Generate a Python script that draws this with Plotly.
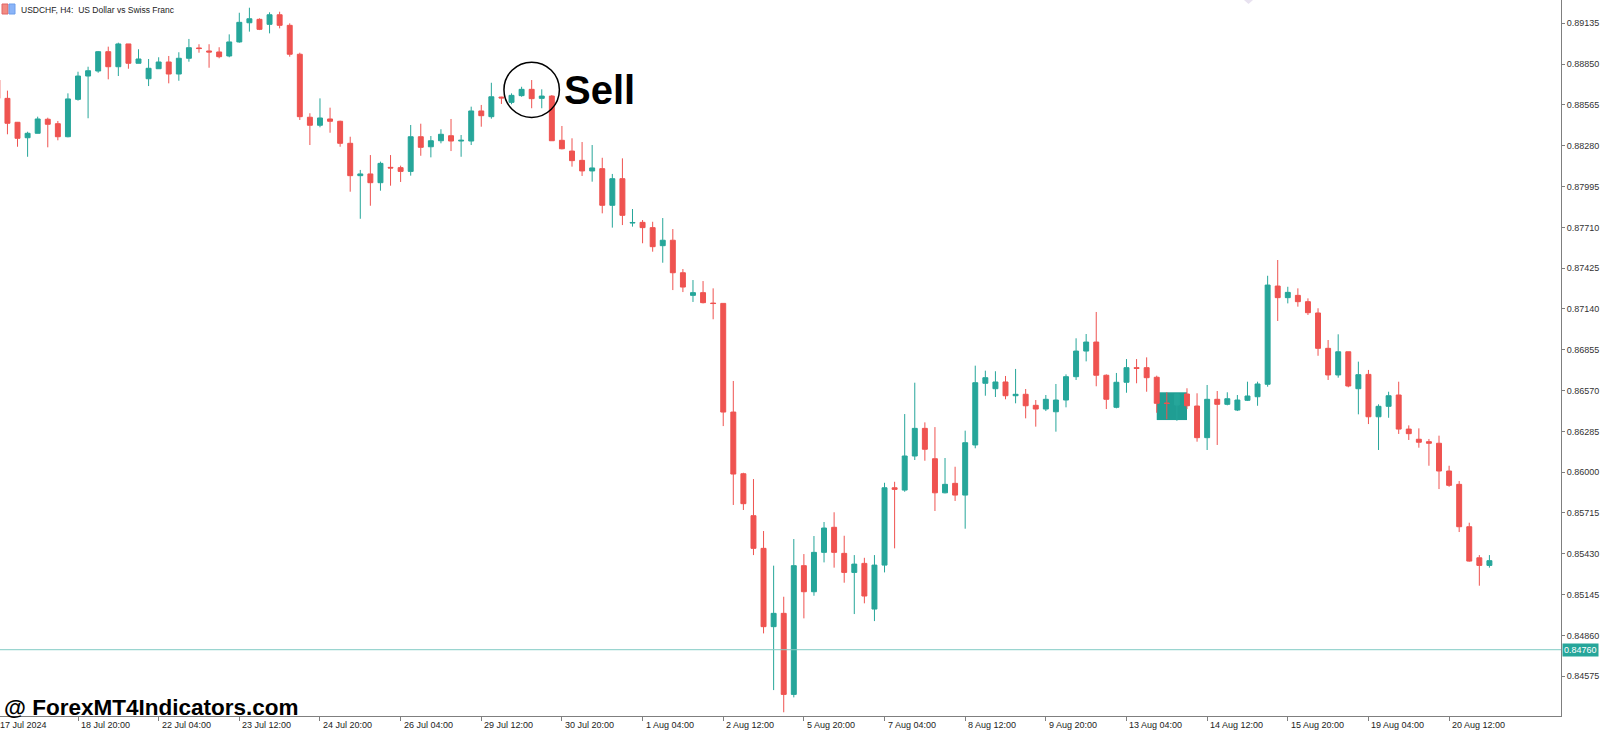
import plotly.graph_objects as go

# USDCHF H4 candles, oldest first (17 Jul 12:00 -> 21 Aug 08:00, weekends skipped)
opens = [
    0.88739, 0.88611, 0.88444, 0.88336, 0.88367, 0.88465, 0.88434, 0.88343,
    0.88604, 0.88767, 0.88802, 0.88937, 0.88832, 0.88991, 0.88856, 0.88748,
    0.88818, 0.88865, 0.88781, 0.88891, 0.88963, 0.88942, 0.88935, 0.88907,
    0.89005, 0.89139, 0.89163, 0.89128, 0.89195, 0.89121, 0.88919, 0.88479,
    0.88423, 0.88467, 0.88451, 0.88297, 0.88071, 0.88083, 0.88022, 0.88129,
    0.88127, 0.88101, 0.88343, 0.88273, 0.88315, 0.88350, 0.88313, 0.88313,
    0.88523, 0.88483, 0.88620, 0.88583, 0.88630, 0.88674, 0.88611, 0.88627,
    0.88318, 0.88243, 0.88178, 0.88104, 0.88120, 0.87864, 0.88050, 0.87740,
    0.87745, 0.87708, 0.87582, 0.87620, 0.87393, 0.87235, 0.87254, 0.87181,
    0.87179, 0.86420, 0.85989, 0.85696, 0.85468, 0.84921, 0.85014, 0.84448,
    0.85347, 0.85165, 0.85440, 0.85615, 0.85433, 0.85300, 0.85363, 0.85044,
    0.85351, 0.85891, 0.85875, 0.86113, 0.86306, 0.86094, 0.85856, 0.85922,
    0.85840, 0.86190, 0.86621, 0.86583, 0.86630, 0.86534, 0.86544, 0.86467,
    0.86441, 0.86422, 0.86504, 0.86667, 0.86846, 0.86909, 0.86677, 0.86453,
    0.86628, 0.86730, 0.86730, 0.86663, 0.86483, 0.86469, 0.86546, 0.86462,
    0.86241, 0.86509, 0.86474, 0.86434, 0.86502, 0.86527, 0.86614, 0.87300,
    0.87219, 0.87235, 0.87191, 0.87112, 0.86865, 0.86679, 0.86841, 0.86583,
    0.86683, 0.86387, 0.86460, 0.86539, 0.86301, 0.86230, 0.86213, 0.86202,
    0.86008, 0.85915, 0.85619, 0.85402, 0.85349,
]
highs = [
    0.88774, 0.88665, 0.88446, 0.88378, 0.88483, 0.88476, 0.88453, 0.88646,
    0.88797, 0.88832, 0.88942, 0.88972, 0.89000, 0.88991, 0.88954, 0.88886,
    0.88898, 0.88907, 0.88933, 0.89026, 0.88989, 0.88989, 0.88968, 0.89058,
    0.89209, 0.89244, 0.89170, 0.89212, 0.89216, 0.89135, 0.88930, 0.88507,
    0.88611, 0.88546, 0.88455, 0.88343, 0.88111, 0.88215, 0.88169, 0.88215,
    0.88141, 0.88425, 0.88434, 0.88348, 0.88395, 0.88467, 0.88355, 0.88553,
    0.88565, 0.88720, 0.88622, 0.88646, 0.88692, 0.88739, 0.88674, 0.88634,
    0.88418, 0.88332, 0.88306, 0.88285, 0.88196, 0.88083, 0.88192, 0.87838,
    0.87761, 0.87749, 0.87775, 0.87698, 0.87419, 0.87342, 0.87335, 0.87284,
    0.87179, 0.86637, 0.85996, 0.85952, 0.85589, 0.85347, 0.85130, 0.85533,
    0.85428, 0.85554, 0.85652, 0.85720, 0.85556, 0.85421, 0.85402, 0.85421,
    0.85926, 0.85933, 0.86406, 0.86625, 0.86348, 0.86315, 0.86099, 0.86038,
    0.86290, 0.86744, 0.86709, 0.86705, 0.86672, 0.86721, 0.86581, 0.86504,
    0.86539, 0.86616, 0.86683, 0.86935, 0.86965, 0.87119, 0.86683, 0.86693,
    0.86790, 0.86790, 0.86802, 0.86674, 0.86558, 0.86546, 0.86586, 0.86551,
    0.86609, 0.86567, 0.86558, 0.86539, 0.86632, 0.86632, 0.87372, 0.87482,
    0.87295, 0.87284, 0.87214, 0.87145, 0.86923, 0.86963, 0.86841, 0.86772,
    0.86714, 0.86474, 0.86562, 0.86632, 0.86327, 0.86306, 0.86232, 0.86255,
    0.86045, 0.85938, 0.85647, 0.85421, 0.85421,
]
lows = [
    0.88600, 0.88360, 0.88273, 0.88203, 0.88367, 0.88269, 0.88318, 0.88339,
    0.88595, 0.88472, 0.88790, 0.88744, 0.88767, 0.88818, 0.88856, 0.88697,
    0.88816, 0.88716, 0.88734, 0.88867, 0.88930, 0.88825, 0.88891, 0.88898,
    0.89000, 0.89077, 0.89088, 0.89065, 0.89100, 0.88902, 0.88460, 0.88285,
    0.88409, 0.88371, 0.88273, 0.87959, 0.87770, 0.87861, 0.87966, 0.88001,
    0.88027, 0.88071, 0.88210, 0.88199, 0.88297, 0.88243, 0.88203, 0.88285,
    0.88413, 0.88469, 0.88572, 0.88570, 0.88622, 0.88542, 0.88542, 0.88315,
    0.88255, 0.88134, 0.88069, 0.88029, 0.87808, 0.87708, 0.87726, 0.87715,
    0.87599, 0.87540, 0.87463, 0.87272, 0.87258, 0.87189, 0.87179, 0.87068,
    0.86322, 0.85771, 0.85736, 0.85421, 0.84874, 0.84478, 0.84323, 0.84427,
    0.84979, 0.85137, 0.85370, 0.85333, 0.85228, 0.85009, 0.85084, 0.84960,
    0.85300, 0.85468, 0.85863, 0.86085, 0.86080, 0.85729, 0.85852, 0.85799,
    0.85605, 0.86167, 0.86534, 0.86525, 0.86509, 0.86481, 0.86376, 0.86318,
    0.86427, 0.86283, 0.86453, 0.86644, 0.86774, 0.86600, 0.86441, 0.86446,
    0.86555, 0.86621, 0.86562, 0.86415, 0.86369, 0.86359, 0.86441, 0.86213,
    0.86155, 0.86190, 0.86467, 0.86427, 0.86497, 0.86464, 0.86597, 0.87056,
    0.87179, 0.87156, 0.87098, 0.86813, 0.86644, 0.86660, 0.86593, 0.86404,
    0.86336, 0.86155, 0.86380, 0.86267, 0.86225, 0.86171, 0.86045, 0.85882,
    0.85898, 0.85582, 0.85375, 0.85207, 0.85333,
]
closes = [
    0.88611, 0.88437, 0.88332, 0.88367, 0.88467, 0.88430, 0.88343, 0.88607,
    0.88767, 0.88804, 0.88937, 0.88832, 0.88991, 0.88856, 0.88886, 0.88821,
    0.88865, 0.88781, 0.88891, 0.88965, 0.88959, 0.88935, 0.88902, 0.89005,
    0.89142, 0.89167, 0.89093, 0.89195, 0.89121, 0.88919, 0.88483, 0.88423,
    0.88474, 0.88451, 0.88297, 0.88071, 0.88083, 0.88022, 0.88157, 0.88125,
    0.88101, 0.88343, 0.88269, 0.88315, 0.88360, 0.88313, 0.88318, 0.88523,
    0.88490, 0.88622, 0.88614, 0.88632, 0.88674, 0.88609, 0.88627, 0.88315,
    0.88259, 0.88176, 0.88104, 0.88125, 0.87864, 0.88050, 0.87794, 0.87744,
    0.87708, 0.87575, 0.87620, 0.87393, 0.87293, 0.87254, 0.87184, 0.87178,
    0.86420, 0.85987, 0.85780, 0.85468, 0.84921, 0.85014, 0.84448, 0.85347,
    0.85165, 0.85440, 0.85610, 0.85440, 0.85300, 0.85358, 0.85135, 0.85351,
    0.85891, 0.85880, 0.86113, 0.86306, 0.86160, 0.85856, 0.85915, 0.85840,
    0.86206, 0.86625, 0.86660, 0.86630, 0.86534, 0.86544, 0.86464, 0.86441,
    0.86509, 0.86504, 0.86667, 0.86846, 0.86909, 0.86677, 0.86509, 0.86628,
    0.86730, 0.86725, 0.86660, 0.86481, 0.86480, 0.86546, 0.86464, 0.86241,
    0.86509, 0.86474, 0.86513, 0.86504, 0.86532, 0.86616, 0.87307, 0.87219,
    0.87256, 0.87191, 0.87114, 0.86865, 0.86679, 0.86841, 0.86602, 0.86681,
    0.86387, 0.86460, 0.86534, 0.86301, 0.86269, 0.86209, 0.86202, 0.86008,
    0.85908, 0.85619, 0.85379, 0.85349, 0.85382,
]

# time axis labels, one every 8 bars starting at the first bar
time_labels = [
    "17 Jul 2024", "18 Jul 20:00", "22 Jul 04:00", "23 Jul 12:00", "24 Jul 20:00",
    "26 Jul 04:00", "29 Jul 12:00", "30 Jul 20:00", "1 Aug 04:00", "2 Aug 12:00",
    "5 Aug 20:00", "7 Aug 04:00", "8 Aug 12:00", "9 Aug 20:00", "13 Aug 04:00",
    "14 Aug 12:00", "15 Aug 20:00", "19 Aug 04:00", "20 Aug 12:00",
]
label_step = 8

price_ticks = [
    0.84575, 0.84860, 0.85145, 0.85430, 0.85715, 0.86000, 0.86285, 0.86570,
    0.86855, 0.87140, 0.87425, 0.87710, 0.87995, 0.88280, 0.88565, 0.88850, 0.89135,
]
line_price = 0.84760

sell_bar = 53          # bar the circle is drawn around
sell_price = 0.88671
box_bars = (115, 118)  # teal signal box
box_prices = (0.86364, 0.86558)

W, H = 1600, 731
PLOT_W, PLOT_H = 1561, 716
X_RANGE = [0.262, 155.1]
UP, DOWN = "#26a69a", "#ef5350"
AXIS = "#7f7f7f"
FONT = "Liberation Sans"

bars = list(range(len(opens)))
tick_pos = [i * label_step for i in range(len(time_labels))]


def bar_to_paper(b):
    return (b - X_RANGE[0]) / (X_RANGE[1] - X_RANGE[0])


fig = go.Figure(
    go.Candlestick(
        x=bars,
        open=opens,
        high=highs,
        low=lows,
        close=closes,
        increasing=dict(line=dict(color=UP, width=1), fillcolor=UP),
        decreasing=dict(line=dict(color=DOWN, width=1), fillcolor=DOWN),
        whiskerwidth=0,
        showlegend=False,
    )
)

# date labels sit to the right of their tick, like the terminal does;
# paper refs so the first one (left of the visible range) is still drawn
annotations = [
    dict(xref="paper", yref="paper", x=bar_to_paper(p), y=0, text=t,
         showarrow=False, xanchor="left", yanchor="top", xshift=1, yshift=-2,
         font=dict(family=FONT, size=9, color="#222"))
    for p, t in zip(tick_pos, time_labels)
]
annotations += [
    dict(xref="paper", yref="paper", x=19 / PLOT_W, y=1 - 10 / PLOT_H,
         text="USDCHF, H4:  US Dollar vs Swiss Franc", showarrow=False,
         xanchor="left", yanchor="middle",
         font=dict(family=FONT, size=8.5, color="#222")),
    dict(xref="paper", yref="paper", x=2 / PLOT_W, y=1 - 707 / PLOT_H,
         text="<b>@ ForexMT4Indicators.com</b>", showarrow=False,
         xanchor="left", yanchor="middle",
         font=dict(family=FONT, size=22.5, color="#000")),
    dict(xref="x", yref="y", x=sell_bar + 3.0, y=sell_price,
         text="<b>Sell</b>", showarrow=False, xanchor="left", yanchor="middle",
         font=dict(family=FONT, size=40, color="#000")),
    dict(xref="paper", yref="y", x=1, y=line_price, text="0.84760",
         showarrow=False, xanchor="left", yanchor="middle", xshift=1,
         bgcolor=UP, borderpad=1, font=dict(family=FONT, size=9, color="#fff")),
]

rx, ry = 2.75, 0.00193
shapes = [
    dict(type="line", xref="paper", yref="y", x0=0, x1=1,
         y0=line_price, y1=line_price, line=dict(color="#80cbc4", width=1)),
    dict(type="rect", xref="x", yref="y", x0=box_bars[0], x1=box_bars[1],
         y0=box_prices[0], y1=box_prices[1], fillcolor="#1f9e93",
         line=dict(width=0), layer="below"),
    dict(type="circle", xref="x", yref="y",
         x0=sell_bar - rx, x1=sell_bar + rx,
         y0=sell_price - ry, y1=sell_price + ry,
         line=dict(color="#000", width=1.5)),
    # little symbol icon next to the title
    dict(type="rect", xref="paper", yref="paper",
         x0=2 / PLOT_W, x1=8 / PLOT_W, y0=1 - 14 / PLOT_H, y1=1 - 4 / PLOT_H,
         fillcolor="#f28b82", line=dict(color="#e06666", width=1)),
    dict(type="rect", xref="paper", yref="paper",
         x0=9 / PLOT_W, x1=15 / PLOT_W, y0=1 - 14 / PLOT_H, y1=1 - 4 / PLOT_H,
         fillcolor="#8ab4f8", line=dict(color="#6d9eeb", width=1)),
    # faint marker at the top edge
    dict(type="path", xref="paper", yref="paper",
         path=f"M {1244 / PLOT_W},1 L {1253 / PLOT_W},1 L {1248.5 / PLOT_W},{1 - 4 / PLOT_H} Z",
         fillcolor="#e8e2f0", line=dict(width=0)),
]

fig.update_layout(
    width=W,
    height=H,
    margin=dict(l=0, r=W - PLOT_W, t=0, b=H - PLOT_H),
    paper_bgcolor="#fff",
    plot_bgcolor="#fff",
    annotations=annotations,
    shapes=shapes,
    xaxis=dict(
        range=X_RANGE,
        rangeslider=dict(visible=False),
        showgrid=False,
        zeroline=False,
        showline=True,
        linecolor=AXIS,
        linewidth=1,
        tickmode="array",
        tickvals=tick_pos,
        ticks="outside",
        ticklen=4,
        tickcolor=AXIS,
        showticklabels=False,
    ),
    yaxis=dict(
        side="right",
        range=[0.84297, 0.89298],
        showgrid=False,
        zeroline=False,
        showline=True,
        linecolor=AXIS,
        linewidth=1,
        tickmode="array",
        tickvals=price_ticks,
        ticktext=[f"{v:.5f}" for v in price_ticks],
        ticks="outside",
        ticklen=3,
        tickcolor=AXIS,
        tickfont=dict(family=FONT, size=9, color="#333"),
    ),
)

# page has a default 8px body margin; remove it so the figure sits at 0,0
fig.write_html(
    "out.html",
    config={"displayModeBar": False},
    post_script="document.body.style.margin='0';document.body.style.overflow='hidden';",
)
